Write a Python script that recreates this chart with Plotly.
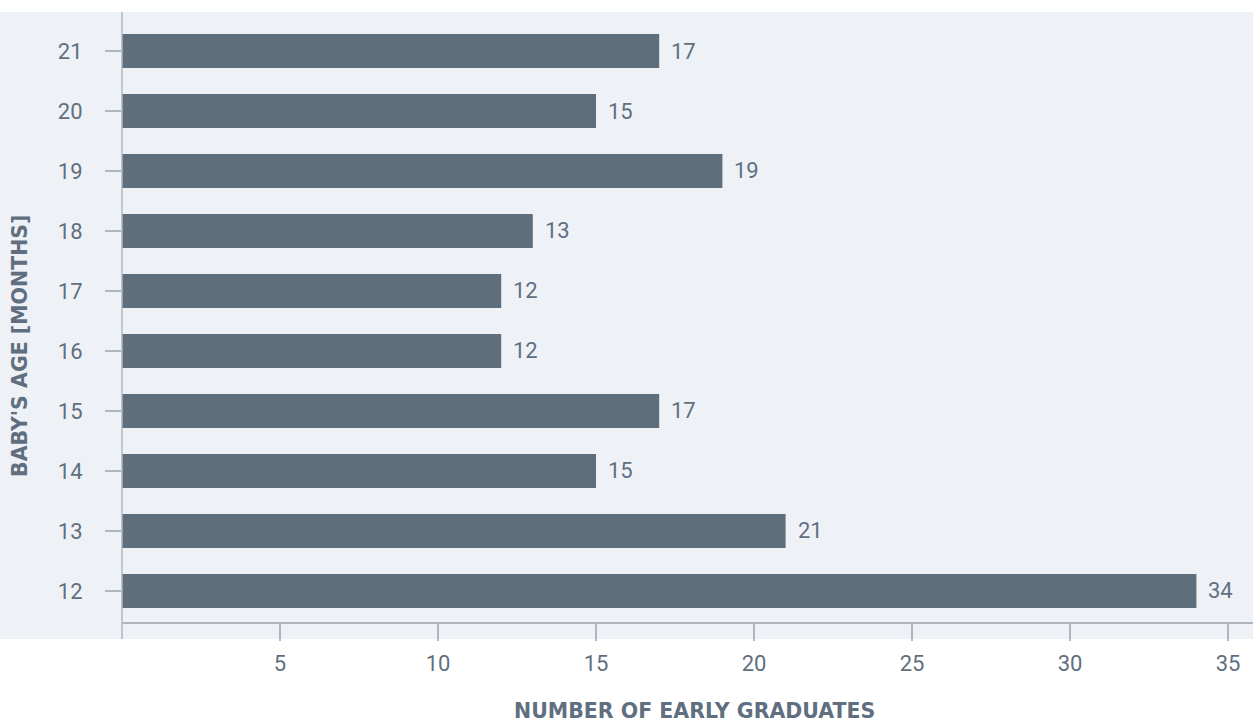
import plotly.graph_objects as go

# 資料
ages = [12, 13, 14, 15, 16, 17, 18, 19, 20, 21]
graduates = [34, 21, 15, 17, 12, 12, 13, 19, 15, 17]
x_ticks = [5, 10, 15, 20, 25, 30, 35]

BAR_COLOR = '#5E6E7D'
TEXT_COLOR = '#5F6F7F'
BG_COLOR = '#EEF2F7'
LINE_COLOR = '#AEB6BF'
FONT = 'Roboto, Arial'
TITLE_FONT = 'DejaVu Sans, Arial'

W, H = 1253, 722
M_L, M_R, M_T, M_B = 122, 0, 12, 100
plot_w = W - M_L - M_R
plot_h = H - M_T - M_B
ext = 17 / plot_h  # 軸線延伸到淺色背景底部


def px_x(p):
    """像素 x 轉 paper 座標"""
    return (p - M_L) / plot_w


def px_y(p):
    """像素 y 轉 paper 座標"""
    return (H - M_B - p) / plot_h


fig = go.Figure()

fig.add_trace(go.Bar(
    x=graduates,
    y=ages,
    orientation='h',
    width=0.567,
    marker=dict(color=BAR_COLOR, line=dict(width=0)),
    hovertemplate='%{y}<br>%{x}<extra></extra>'
))

# 數值標籤
for v, a in zip(graduates, ages):
    fig.add_annotation(
        x=v, y=a, text=str(v), showarrow=False,
        xanchor='left', yanchor='middle', xshift=10,
        font=dict(family=FONT, size=22, color=TEXT_COLOR)
    )

# 淺色背景（延伸至左側標籤區）
fig.add_shape(
    type='rect', xref='paper', yref='paper',
    x0=-M_L / plot_w, x1=1, y0=-ext, y1=1,
    fillcolor=BG_COLOR, line=dict(width=0), layer='below'
)
# y 軸線
fig.add_shape(
    type='line', xref='paper', yref='paper',
    x0=0, x1=0, y0=-ext, y1=1,
    line=dict(color=LINE_COLOR, width=1.5), layer='above'
)

# 軸標題
fig.add_annotation(
    text="<b>BABY'S AGE [MONTHS]</b>", xref='paper', yref='paper',
    x=px_x(20), y=px_y(346), showarrow=False, textangle=-90,
    xanchor='center', yanchor='middle',
    font=dict(family=TITLE_FONT, size=20.5, color=TEXT_COLOR)
)
fig.add_annotation(
    text='<b>NUMBER OF EARLY GRADUATES</b>', xref='paper', yref='paper',
    x=px_x(694), y=px_y(711), showarrow=False,
    xanchor='center', yanchor='middle',
    font=dict(family=TITLE_FONT, size=20.5, color=TEXT_COLOR)
)

fig.update_layout(
    width=W,
    height=H,
    plot_bgcolor='rgba(0,0,0,0)',
    paper_bgcolor='white',
    font=dict(family=FONT, size=22, color=TEXT_COLOR),
    margin=dict(l=M_L, r=M_R, t=M_T, b=M_B),
    showlegend=False
)

fig.update_xaxes(
    range=[0, plot_w / 31.6],
    tickvals=x_ticks,
    ticks='outside',
    ticklen=17,
    tickwidth=1.5,
    tickcolor=LINE_COLOR,
    ticklabelstandoff=4,
    showline=True,
    linecolor=LINE_COLOR,
    linewidth=1.5,
    showgrid=False,
    zeroline=False,
    tickfont=dict(size=22, color=TEXT_COLOR)
)

fig.update_yaxes(
    range=[11.483, 21.65],
    tickvals=ages,
    ticks='outside',
    ticklen=16,
    tickwidth=1.5,
    tickcolor=LINE_COLOR,
    ticklabelstandoff=18,
    showline=False,
    showgrid=False,
    zeroline=False,
    tickfont=dict(size=22, color=TEXT_COLOR)
)

fig.write_html(
    'out.html',
    config={'displayModeBar': False},
    post_script="document.body.style.margin='0';"
)
